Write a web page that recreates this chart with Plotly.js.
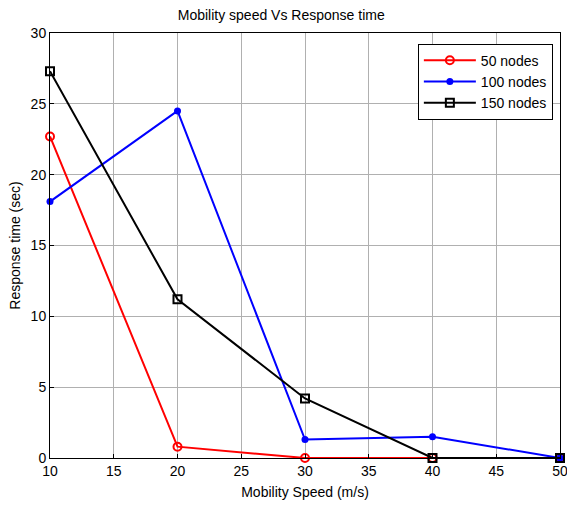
<!DOCTYPE html>
<html>
<head>
<meta charset="utf-8">
<script src="https://cdn.plot.ly/plotly-3.0.1.min.js"></script>
<style>html,body{margin:0;padding:0;background:#fff;}#chart{width:567px;height:506px;}</style>
</head>
<body>
<div id="chart"></div>
<script>
const speeds = [10, 20, 30, 40, 50];
const nodes50 = [22.7, 0.8, 0, 0, 0];
const nodes100 = [18.1, 24.5, 1.3, 1.5, 0];
const nodes150 = [27.3, 11.2, 4.2, 0, 0];
const seriesNames = ['50 nodes', '100 nodes', '150 nodes'];
const xTicks = [10, 15, 20, 25, 30, 35, 40, 45, 50];
const yTicks = [0, 5, 10, 15, 20, 25, 30];

const traces = [
  {x: speeds, y: nodes50, name: seriesNames[0], mode: 'lines+markers', cliponaxis: false,
   line: {color: '#ff0000', width: 2}, marker: {symbol: 'circle-open', size: 8, color: '#ff0000', line: {width: 2}}},
  {x: speeds, y: nodes100, name: seriesNames[1], mode: 'lines+markers', cliponaxis: false,
   line: {color: '#0000ff', width: 2}, marker: {symbol: 'circle', size: 7, color: '#0000ff'}},
  {x: speeds, y: nodes150, name: seriesNames[2], mode: 'lines+markers', cliponaxis: false,
   line: {color: '#000000', width: 2}, marker: {symbol: 'square-open', size: 8, color: '#000000', line: {width: 2}}}
];

const layout = {
  width: 567, height: 506,
  margin: {l: 50, r: 7, t: 33, b: 48},
  paper_bgcolor: '#fff', plot_bgcolor: '#fff',
  font: {family: 'Liberation Sans, Arial, sans-serif', size: 14, color: '#000'},
  title: {text: 'Mobility speed Vs Response time', font: {size: 14}, x: 0.496, xanchor: 'center', y: 0.97, yanchor: 'middle'},
  xaxis: {
    range: [10, 50], tickvals: xTicks, ticklabeloverflow: 'allow',
    showgrid: true, gridcolor: '#b0b0b0', gridwidth: 1,
    zeroline: false, showline: true, mirror: true, linecolor: '#000', linewidth: 1,
    ticks: 'inside', ticklen: 4, tickcolor: '#000', tickfont: {size: 14},
    title: {text: 'Mobility Speed (m/s)', font: {size: 14}, standoff: 9}
  },
  yaxis: {
    range: [0, 30], tickvals: yTicks,
    showgrid: true, gridcolor: '#b0b0b0', gridwidth: 1,
    zeroline: false, showline: true, mirror: true, linecolor: '#000', linewidth: 1,
    ticks: 'inside', ticklen: 4, tickcolor: '#000', tickfont: {size: 14},
    title: {text: 'Response time (sec)', font: {size: 14}, standoff: 6}
  },
  legend: {
    x: 0.986, xanchor: 'right', y: 0.975, yanchor: 'top',
    bgcolor: '#fff', bordercolor: '#000', borderwidth: 1,
    font: {size: 14}, itemwidth: 52
  },
  showlegend: true
};

Plotly.newPlot('chart', traces, layout, {displayModeBar: false, staticPlot: true});
</script>
</body>
</html>
